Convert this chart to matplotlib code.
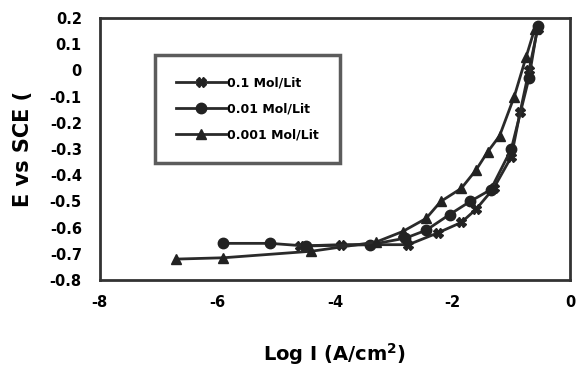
import numpy as np
import matplotlib.pyplot as plt

plt.rcParams["font.family"] = ["DejaVu Sans"]
plt.rcParams["font.weight"] = "bold"

# 0.1 Mol/Lit
log_i_01 = [-4.6, -3.9, -2.75, -2.25, -1.85, -1.6, -1.3, -1.0, -0.85, -0.7, -0.55]
e_01 = [-0.67, -0.665, -0.665, -0.62, -0.58, -0.53, -0.45, -0.33, -0.16, 0.0, 0.16]

# 0.01 Mol/Lit
log_i_001 = [-5.9, -5.1, -4.5, -3.4, -2.8, -2.45, -2.05, -1.7, -1.35, -1.0, -0.7, -0.55]
e_001 = [-0.66, -0.66, -0.67, -0.665, -0.64, -0.61, -0.55, -0.5, -0.455, -0.3, -0.03, 0.17]

# 0.001 Mol/Lit
log_i_0001 = [-6.7, -5.9, -4.4, -3.3, -2.85, -2.45, -2.2, -1.85, -1.6, -1.4, -1.2, -0.95, -0.75, -0.6]
e_0001 = [-0.72, -0.715, -0.69, -0.655, -0.615, -0.565, -0.5, -0.45, -0.38, -0.31, -0.25, -0.1, 0.05, 0.16]

labels = ["0.1 Mol/Lit", "0.01 Mol/Lit", "0.001 Mol/Lit"]

fig = plt.figure(figsize=(5.77, 3.68), dpi=100)
ax = fig.add_axes([0.173, 0.239, 0.815, 0.712])

lc = "#2a2a2a"
ax.plot(log_i_01, e_01, color=lc, lw=2, marker="X", ms=7, mfc="#222222", mec="#222222", label=labels[0])
ax.plot(log_i_001, e_001, color=lc, lw=2, marker="o", ms=7.5, mfc="#222222", mec="#222222", label=labels[1])
ax.plot(log_i_0001, e_0001, color=lc, lw=2, marker="^", ms=7, mfc="#222222", mec="#222222", label=labels[2])

ax.set_xlim(-8, 0)
ax.set_ylim(-0.8, 0.2)
ax.set_xticks([-8, -6, -4, -2, 0])
ax.set_xticklabels(["-8", "-6", "-4", "-2", "0"])
yt = np.round(np.arange(-0.8, 0.21, 0.1), 1)
ax.set_yticks(yt)
ax.set_yticklabels(["0" if v == 0 else f"{v:g}" for v in yt])
ax.tick_params(axis="y", length=0, labelsize=10.5, pad=13)
ax.tick_params(axis="x", length=0, labelsize=10.5, pad=11)
for s in ax.spines.values():
    s.set_linewidth(2)
    s.set_color("#333333")

ax.set_xlabel("Log I (A/cm$^\\mathbf{2}$)", fontsize=14, fontweight="bold", labelpad=22)
ax.set_ylabel("E vs SCE (", fontsize=15, fontweight="bold", labelpad=12)

leg = ax.legend(loc="upper left", bbox_to_anchor=(0.117, 0.859), fontsize=9,
                handlelength=4, frameon=True, fancybox=False, borderpad=1.7,
                labelspacing=1.05, handletextpad=0.1, borderaxespad=0)
leg.get_frame().set_edgecolor("#333333")
leg.get_frame().set_linewidth(2.5)

fig.savefig("out.png", dpi=100)
